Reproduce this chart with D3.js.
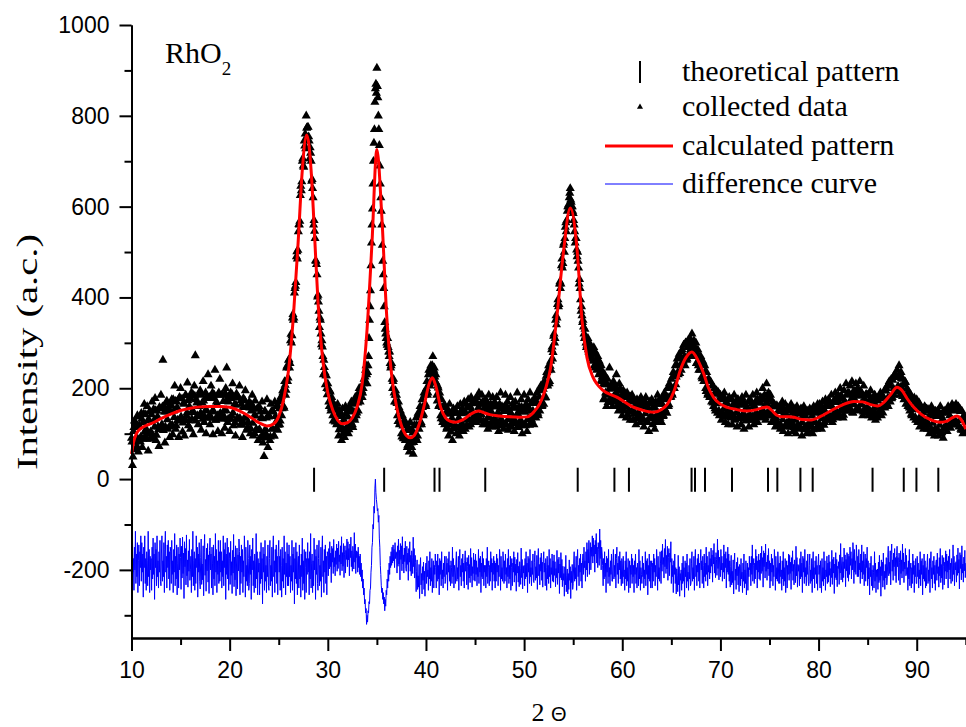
<!DOCTYPE html>
<html>
<head>
<meta charset="utf-8">
<script src="https://cdn.jsdelivr.net/npm/d3@7"></script>
<style>
  body { margin: 0; background: #fff; }
  svg { display: block; }
</style>
</head>
<body>
<div id="chart"></div>
<script>
// collected data: 2 theta grid 10.00, 10.05 ... 95.00, one row per degree
const obsStart = 10, obsStep = 0.05;
const observed = [
  90, 82, 30, 49, 105, 114, 128, 82, 65, 123, 92, 72, 140, 115, 60, 87, 118, 137, 82, 93,
  145, 132, 70, 88, 125, 144, 165, 105, 95, 142, 110, 88, 160, 129, 62, 100, 130, 149, 88, 104,
  100, 142, 170, 98, 90, 154, 130, 115, 178, 151, 85, 97, 150, 138, 115, 109, 72, 158, 155, 113,
  185, 118, 120, 159, 262, 107, 160, 148, 80, 115, 148, 168, 172, 131, 110, 158, 150, 115, 92, 162,
  118, 163, 175, 119, 98, 175, 150, 136, 205, 172, 110, 118, 170, 158, 130, 129, 92, 178, 180, 132,
  200, 137, 128, 177, 104, 124, 168, 165, 95, 131, 185, 184, 140, 146, 212, 173, 118, 129, 160, 176,
  110, 177, 190, 132, 150, 187, 98, 147, 205, 183, 272, 128, 175, 168, 140, 138, 120, 187, 160, 141,
  195, 145, 108, 185, 168, 132, 215, 172, 125, 138, 150, 190, 100, 152, 182, 178, 230, 134, 140, 180,
  120, 180, 205, 135, 148, 190, 98, 150, 178, 185, 240, 130, 130, 170, 165, 140, 105, 188, 190, 142,
  220, 145, 135, 185, 100, 132, 185, 171, 150, 137, 112, 189, 200, 151, 245, 177, 125, 132, 170, 178,
  105, 178, 190, 132, 140, 186, 210, 146, 118, 180, 165, 124, 95, 163, 188, 132, 135, 179, 180, 132,
  205, 134, 120, 173, 165, 119, 92, 158, 178, 123, 135, 173, 195, 134, 108, 159, 160, 114, 125, 159,
  170, 157, 100, 111, 150, 164, 185, 123, 95, 157, 140, 100, 172, 139, 110, 108, 155, 154, 85, 107,
  160, 109, 90, 148, 135, 94, 170, 133, 80, 98, 50, 149, 150, 110, 100, 135, 175, 91, 70, 137,
  140, 138, 85, 93, 165, 149, 110, 111, 150, 148, 95, 95, 170, 138, 125, 112, 160, 163, 108, 119,
  170, 155, 120, 128, 175, 182, 140, 155, 195, 191, 160, 156, 215, 207, 185, 196, 245, 249, 215, 223,
  262, 263, 245, 255, 305, 319, 300, 316, 355, 363, 350, 355, 410, 420, 425, 433, 490, 501, 485, 504,
  545, 561, 560, 568, 625, 645, 635, 655, 700, 706, 690, 687, 745, 734, 760, 728, 800, 773, 775, 747,
  775, 754, 745, 706, 730, 718, 700, 656, 660, 640, 620, 560, 570, 546, 530, 481, 480, 473, 450, 401,
  405, 390, 370, 334, 355, 350, 320, 296, 305, 291, 270, 230, 262, 246, 235, 208, 228, 228, 200, 186,
  210, 198, 170, 160, 195, 192, 150, 156, 180, 171, 140, 128, 165, 152, 130, 126, 160, 156, 120, 122,
  165, 141, 95, 109, 150, 147, 110, 117, 85, 138, 155, 100, 130, 130, 92, 108, 160, 143, 105, 114,
  150, 137, 100, 109, 160, 151, 115, 125, 170, 149, 120, 114, 165, 148, 135, 130, 180, 170, 140, 146,
  185, 168, 150, 178, 200, 185, 170, 182, 190, 195, 180, 190, 200, 210, 220, 215, 225, 240, 250, 230,
  210, 235, 250, 270, 310, 350, 380, 415, 470, 520, 560, 595, 650, 700, 740, 770, 830, 860, 870, 850,
  905, 865, 840, 800, 770, 735, 690, 650, 620, 590, 560, 515, 480, 450, 420, 380, 345, 330, 320, 310,
  300, 295, 310, 290, 280, 270, 280, 255, 245, 250, 255, 220, 200, 215, 220, 190, 170, 185, 195, 170,
  185, 167, 140, 127, 170, 158, 120, 122, 150, 137, 100, 93, 140, 117, 90, 89, 130, 119, 85, 87,
  120, 107, 70, 75, 110, 113, 60, 85, 125, 107, 80, 70, 108, 102, 55, 81, 118, 118, 90, 92,
  135, 119, 85, 95, 145, 141, 110, 120, 160, 150, 125, 120, 175, 158, 140, 143, 190, 185, 160, 165,
  160, 200, 215, 185, 190, 230, 240, 210, 205, 240, 250, 215, 230, 250, 270, 225, 240, 245, 225, 215,
  230, 212, 185, 172, 205, 201, 160, 163, 190, 177, 140, 133, 175, 158, 125, 131, 160, 161, 120, 127,
  160, 146, 110, 114, 150, 152, 95, 123, 165, 143, 120, 104, 145, 134, 85, 111, 155, 145, 115, 115,
  150, 115, 100, 145, 160, 112, 130, 135, 95, 105, 165, 144, 118, 123, 155, 152, 105, 113, 170, 145,
  110, 146, 165, 118, 130, 159, 175, 133, 115, 157, 160, 120, 180, 151, 125, 131, 170, 166, 140, 137,
  175, 138, 125, 169, 180, 136, 140, 158, 190, 128, 130, 165, 165, 142, 185, 169, 120, 128, 170, 157,
  120, 156, 175, 126, 150, 165, 110, 137, 185, 158, 135, 120, 165, 149, 115, 127, 180, 160, 130, 130,
  170, 129, 115, 159, 180, 125, 140, 147, 105, 117, 165, 155, 190, 133, 125, 160, 155, 120, 110, 150,
  160, 149, 185, 119, 120, 159, 170, 131, 108, 153, 150, 115, 180, 145, 115, 123, 165, 157, 135, 127,
  105, 126, 170, 156, 140, 122, 190, 144, 118, 114, 160, 152, 125, 130, 175, 158, 100, 118, 150, 148,
  185, 148, 120, 118, 165, 159, 105, 131, 175, 155, 135, 119, 190, 151, 125, 131, 170, 167, 150, 138,
  120, 140, 180, 173, 135, 142, 190, 167, 145, 140, 195, 181, 150, 163, 205, 196, 160, 162, 210, 198,
  165, 204, 215, 179, 180, 227, 235, 208, 205, 239, 250, 210, 215, 249, 260, 240, 285, 291, 265, 279,
  315, 320, 300, 310, 350, 360, 340, 355, 385, 395, 380, 385, 430, 435, 420, 430, 470, 485, 465, 475,
  515, 520, 500, 530, 555, 565, 545, 570, 590, 600, 600, 605, 620, 630, 640, 615, 610, 600, 600, 590,
  585, 570, 560, 545, 520, 530, 530, 505, 490, 500, 480, 465, 430, 440, 420, 395, 370, 380, 360, 345,
  350, 335, 320, 310, 330, 315, 300, 290, 295, 300, 310, 285, 280, 300, 295, 275, 270, 285, 285, 265,
  260, 275, 290, 250, 245, 280, 275, 255, 240, 265, 270, 245, 230, 260, 255, 235, 215, 250, 240, 225,
  215, 208, 175, 177, 230, 216, 190, 187, 160, 208, 220, 169, 185, 198, 245, 175, 170, 208, 200, 177,
  160, 176, 215, 205, 175, 170, 200, 191, 230, 160, 185, 196, 150, 171, 210, 198, 165, 157, 195, 184,
  140, 182, 195, 151, 160, 190, 185, 161, 135, 180, 190, 142, 150, 171, 180, 148, 130, 181, 175, 150,
  185, 148, 130, 177, 170, 143, 145, 164, 120, 133, 175, 170, 140, 147, 165, 174, 125, 134, 180, 163,
  130, 162, 170, 132, 115, 172, 160, 144, 180, 165, 125, 127, 150, 157, 105, 134, 170, 168, 135, 138,
  175, 137, 120, 167, 160, 133, 110, 156, 170, 127, 140, 166, 185, 145, 125, 174, 165, 134, 145, 165,
  125, 166, 180, 138, 140, 180, 190, 154, 150, 179, 175, 145, 200, 180, 160, 164, 210, 204, 180, 181,
  220, 188, 185, 226, 235, 200, 200, 230, 250, 208, 225, 252, 265, 235, 230, 268, 275, 233, 250, 268,
  240, 280, 285, 255, 260, 295, 295, 270, 250, 300, 300, 262, 265, 290, 305, 272, 275, 305, 310, 285,
  290, 300, 320, 270, 270, 295, 305, 275, 290, 285, 300, 255, 255, 275, 285, 250, 240, 265, 270, 240,
  270, 256, 225, 221, 260, 256, 215, 222, 250, 237, 200, 193, 235, 217, 185, 189, 220, 218, 180, 184,
  215, 180, 170, 206, 205, 168, 160, 187, 200, 155, 150, 190, 195, 166, 145, 192, 190, 150, 140, 178,
  185, 176, 130, 145, 175, 184, 140, 155, 190, 176, 125, 138, 170, 166, 150, 144, 120, 177, 180, 147,
  135, 146, 175, 176, 120, 141, 165, 163, 185, 132, 130, 170, 160, 147, 115, 175, 175, 134, 140, 164,
  170, 163, 120, 133, 180, 173, 140, 145, 110, 166, 165, 128, 185, 158, 130, 136, 155, 170, 115, 140,
  175, 140, 130, 171, 165, 137, 185, 160, 120, 130, 160, 169, 140, 147, 190, 176, 125, 137, 170, 168,
  135, 168, 180, 139, 150, 179, 200, 151, 140, 174, 185, 136, 130, 167, 210, 145, 165, 179, 190, 148,
  140, 146, 185, 175, 125, 139, 170, 159, 130, 126, 165, 161, 115, 136, 160, 162, 125, 121, 150, 150,
  160, 149, 110, 119, 150, 159, 170, 131, 105, 153, 145, 115, 165, 145, 120, 123, 155, 157, 100, 127,
  150, 127, 115, 157, 165, 123, 125, 145, 105, 114, 155, 152, 140, 130, 100, 157, 160, 116, 120, 145,
  145, 144, 110, 114, 155, 153, 95, 125, 140, 147, 160, 109, 115, 139, 150, 116, 100, 150, 145, 120,
  105, 120, 155, 150, 120, 116, 150, 139, 100, 109, 160, 148, 125, 126, 145, 155, 110, 116, 165, 147,
  120, 148, 165, 119, 140, 160, 110, 133, 170, 156, 150, 119, 125, 150, 175, 130, 135, 165, 160, 137,
  175, 138, 130, 170, 165, 137, 185, 160, 125, 131, 170, 170, 140, 148, 190, 177, 150, 138, 135, 169,
  185, 170, 140, 141, 200, 182, 150, 155, 180, 178, 135, 141, 195, 172, 160, 151, 210, 185, 150, 156,
  190, 157, 150, 188, 205, 154, 165, 177, 215, 147, 145, 186, 195, 164, 175, 193, 210, 153, 155, 183,
  200, 183, 150, 153, 215, 193, 165, 164, 190, 186, 140, 148, 205, 177, 155, 154, 185, 187, 145, 156,
  185, 155, 140, 185, 175, 150, 195, 172, 135, 141, 170, 179, 150, 156, 185, 184, 130, 143, 160, 173,
  135, 173, 180, 144, 150, 185, 190, 159, 140, 182, 185, 146, 160, 177, 195, 157, 165, 194, 200, 167,
  205, 179, 160, 211, 215, 180, 170, 205, 220, 177, 180, 218, 225, 199, 185, 230, 230, 192, 195, 224,
  240, 224, 205, 193, 250, 231, 185, 202, 235, 222, 200, 182, 220, 208, 175, 183, 215, 213, 165, 180,
  200, 167, 160, 194, 190, 157, 150, 176, 185, 143, 140, 178, 175, 153, 135, 179, 170, 136, 130, 164,
  175, 162, 125, 130, 165, 168, 115, 138, 160, 158, 130, 119, 155, 147, 110, 124, 160, 157, 120, 126,
  155, 125, 110, 154, 150, 119, 100, 140, 145, 109, 160, 146, 105, 123, 140, 150, 95, 110, 150, 139,
  105, 138, 150, 108, 95, 148, 140, 119, 160, 141, 100, 103, 145, 133, 90, 112, 150, 146, 110, 117,
  150, 117, 105, 148, 160, 116, 115, 140, 155, 112, 120, 151, 165, 130, 125, 159, 160, 120, 130, 151,
  165, 151, 120, 120, 160, 159, 115, 129, 155, 149, 110, 108, 150, 134, 100, 108, 140, 138, 105, 103,
  125
];

// difference curve (offset below zero): grid 10.00, 10.05 ... 95.00, one row per degree
const diffStart = 10, diffStep = 0.05;
const difference = [
  -155, -225, -130, -205, -175, -245, -150, -200, -115, -230, -165, -215, -140, -250, -180, -145, -235, -160, -195, -125,
  -225, -140, -205, -165, -260, -150, -195, -125, -230, -175, -245, -160, -180, -235, -115, -215, -155, -250, -170, -200,
  -175, -245, -150, -220, -130, -210, -165, -265, -140, -195, -155, -235, -125, -215, -180, -240, -160, -205, -135, -225,
  -235, -165, -125, -225, -180, -215, -140, -250, -155, -115, -205, -170, -240, -145, -195, -135, -220, -160, -245, -150,
  -160, -230, -135, -210, -180, -250, -155, -205, -120, -235, -170, -220, -145, -255, -185, -150, -240, -165, -200, -130,
  -173, -243, -148, -218, -128, -208, -163, -263, -138, -193, -153, -233, -123, -213, -178, -238, -158, -203, -133, -223,
  -200, -170, -250, -155, -215, -115, -235, -180, -160, -245, -175, -230, -125, -195, -150, -260, -165, -205, -140, -225,
  -242, -172, -132, -232, -187, -222, -147, -257, -162, -122, -212, -177, -247, -152, -202, -142, -227, -167, -252, -157,
  -130, -200, -165, -240, -150, -185, -255, -145, -220, -170, -235, -120, -205, -155, -250, -180, -210, -135, -230, -160,
  -225, -135, -205, -160, -240, -180, -215, -125, -235, -155, -195, -140, -265, -165, -210, -130, -220, -150, -245, -175,
  -162, -232, -137, -212, -182, -252, -157, -207, -122, -237, -172, -222, -147, -257, -187, -152, -242, -167, -202, -132,
  -160, -255, -170, -230, -145, -205, -155, -250, -180, -215, -125, -165, -260, -150, -225, -190, -235, -135, -175, -245,
  -230, -145, -210, -170, -265, -155, -200, -130, -235, -180, -250, -165, -185, -240, -120, -220, -160, -255, -175, -205,
  -185, -255, -160, -230, -140, -220, -175, -275, -150, -205, -165, -245, -135, -225, -190, -250, -170, -215, -145, -235,
  -245, -175, -135, -235, -190, -225, -150, -260, -165, -125, -215, -180, -250, -155, -205, -145, -230, -170, -255, -160,
  -135, -205, -170, -245, -155, -190, -260, -150, -225, -175, -240, -125, -210, -160, -255, -185, -215, -140, -235, -165,
  -235, -145, -215, -170, -250, -190, -225, -135, -245, -165, -205, -150, -275, -175, -220, -140, -230, -160, -255, -185,
  -170, -240, -145, -220, -190, -260, -165, -215, -130, -245, -180, -230, -155, -265, -195, -160, -250, -175, -210, -140,
  -205, -175, -255, -160, -220, -120, -240, -185, -165, -250, -180, -235, -130, -200, -155, -265, -170, -210, -145, -230,
  -245, -175, -135, -235, -190, -225, -150, -260, -165, -125, -215, -180, -250, -155, -205, -145, -230, -170, -255, -160,
  -168, -213, -153, -198, -138, -193, -163, -228, -148, -183, -153, -208, -133, -193, -173, -213, -158, -188, -143, -203,
  -152, -197, -137, -182, -167, -212, -147, -187, -127, -202, -162, -192, -142, -217, -167, -147, -207, -157, -177, -132,
  -193, -138, -178, -153, -213, -143, -173, -128, -193, -158, -203, -148, -163, -198, -118, -183, -143, -208, -158, -173,
  -160, -205, -150, -195, -170, -210, -165, -215, -185, -225, -200, -240, -220, -255, -240, -275, -265, -295, -285, -320,
  -300, -315, -290, -295, -270, -275, -245, -240, -205, -190, -150, -140, -100, -110, -60, -75, -20, 0, -30, -45,
  -55, -70, -65, -95, -80, -130, -150, -190, -210, -235, -250, -240, -265, -250, -275, -260, -290, -265, -280, -245,
  -255, -220, -240, -200, -225, -185, -210, -170, -195, -160, -190, -150, -185, -145, -180, -155, -195, -140, -175, -160,
  -162, -207, -147, -192, -132, -187, -157, -222, -142, -177, -147, -202, -127, -187, -167, -207, -152, -182, -137, -197,
  -203, -148, -188, -163, -223, -153, -183, -138, -203, -168, -213, -158, -173, -208, -128, -193, -153, -218, -168, -183,
  -248, -203, -178, -243, -213, -238, -188, -263, -198, -173, -233, -208, -253, -193, -223, -183, -243, -203, -258, -198,
  -185, -230, -170, -215, -200, -245, -180, -220, -160, -235, -195, -225, -175, -250, -200, -180, -240, -190, -210, -165,
  -195, -240, -180, -225, -165, -220, -190, -255, -175, -210, -180, -235, -160, -220, -200, -240, -185, -215, -170, -230,
  -225, -170, -210, -185, -245, -175, -205, -160, -225, -190, -235, -180, -195, -230, -150, -215, -175, -240, -190, -205,
  -230, -185, -160, -225, -195, -220, -170, -245, -180, -155, -215, -190, -235, -175, -205, -165, -225, -185, -240, -180,
  -158, -203, -183, -233, -173, -193, -243, -168, -218, -188, -228, -153, -213, -173, -238, -193, -208, -163, -223, -178,
  -225, -165, -210, -180, -235, -195, -215, -155, -230, -175, -205, -170, -250, -185, -215, -160, -220, -175, -235, -190,
  -205, -190, -240, -175, -215, -150, -230, -195, -180, -235, -190, -225, -160, -205, -175, -245, -185, -210, -170, -225,
  -180, -240, -185, -225, -165, -205, -175, -235, -190, -215, -155, -180, -245, -170, -220, -195, -225, -160, -185, -230,
  -180, -225, -165, -210, -195, -240, -175, -215, -155, -230, -190, -220, -170, -245, -195, -175, -235, -185, -205, -160,
  -227, -172, -212, -187, -247, -177, -207, -162, -227, -192, -237, -182, -197, -232, -152, -217, -177, -242, -192, -207,
  -190, -235, -175, -220, -160, -215, -185, -250, -170, -205, -175, -230, -155, -215, -195, -235, -180, -210, -165, -225,
  -228, -183, -158, -223, -193, -218, -168, -243, -178, -153, -213, -188, -233, -173, -203, -163, -223, -183, -238, -178,
  -160, -205, -185, -235, -175, -195, -245, -170, -220, -190, -230, -155, -215, -175, -240, -195, -210, -165, -225, -180,
  -227, -167, -212, -182, -237, -197, -217, -157, -232, -177, -207, -172, -252, -187, -217, -162, -222, -177, -237, -192,
  -223, -208, -258, -193, -233, -168, -248, -213, -198, -253, -208, -243, -178, -223, -193, -263, -203, -228, -188, -243,
  -230, -185, -160, -225, -195, -220, -170, -245, -180, -155, -215, -190, -235, -175, -205, -165, -225, -185, -240, -180,
  -165, -210, -150, -195, -180, -225, -160, -200, -140, -215, -155, -185, -135, -210, -160, -140, -200, -150, -170, -125,
  -185, -130, -170, -145, -205, -135, -165, -120, -185, -150, -195, -140, -155, -190, -110, -175, -135, -200, -150, -165,
  -190, -235, -175, -220, -160, -215, -185, -250, -170, -205, -175, -230, -155, -215, -195, -235, -180, -210, -165, -225,
  -225, -180, -155, -220, -190, -215, -165, -240, -175, -150, -210, -185, -230, -170, -200, -160, -220, -180, -235, -175,
  -185, -230, -170, -215, -200, -245, -180, -220, -160, -235, -195, -225, -175, -250, -200, -180, -240, -190, -210, -165,
  -230, -175, -215, -190, -250, -180, -210, -165, -230, -195, -240, -185, -200, -235, -155, -220, -180, -245, -195, -210,
  -230, -170, -215, -185, -240, -200, -220, -160, -235, -180, -210, -175, -255, -190, -220, -165, -225, -180, -240, -195,
  -180, -240, -185, -225, -165, -205, -175, -235, -190, -215, -155, -180, -245, -170, -220, -195, -225, -160, -185, -230,
  -158, -203, -143, -188, -173, -218, -153, -193, -133, -208, -168, -198, -148, -223, -173, -153, -213, -163, -183, -138,
  -230, -175, -215, -190, -250, -180, -210, -165, -230, -195, -253, -198, -213, -248, -168, -233, -193, -258, -208, -223,
  -200, -245, -185, -230, -170, -225, -195, -260, -180, -215, -185, -240, -165, -225, -205, -245, -190, -220, -175, -235,
  -230, -185, -160, -225, -195, -220, -170, -245, -180, -155, -215, -190, -235, -175, -205, -165, -225, -185, -240, -180,
  -155, -200, -180, -230, -170, -190, -240, -165, -215, -185, -225, -150, -210, -170, -235, -190, -205, -160, -220, -175,
  -207, -152, -192, -167, -227, -157, -187, -142, -207, -172, -217, -162, -177, -212, -132, -197, -157, -222, -172, -187,
  -215, -155, -200, -170, -225, -185, -205, -145, -220, -165, -195, -160, -240, -175, -205, -150, -210, -165, -225, -180,
  -238, -193, -168, -233, -203, -228, -178, -253, -188, -163, -223, -198, -243, -183, -213, -173, -233, -193, -248, -188,
  -190, -235, -175, -220, -205, -250, -185, -225, -165, -240, -200, -230, -180, -255, -205, -185, -245, -195, -215, -170,
  -200, -185, -235, -170, -210, -145, -225, -190, -175, -230, -185, -220, -155, -200, -170, -240, -180, -205, -165, -220,
  -178, -223, -163, -208, -148, -203, -173, -238, -158, -193, -163, -218, -143, -203, -183, -223, -168, -198, -153, -213,
  -180, -240, -185, -225, -165, -205, -175, -235, -190, -215, -155, -180, -245, -170, -220, -195, -225, -160, -185, -230,
  -185, -230, -170, -215, -200, -245, -180, -220, -160, -235, -195, -225, -175, -250, -200, -180, -240, -190, -210, -165,
  -223, -168, -208, -183, -243, -173, -203, -158, -223, -188, -233, -178, -193, -228, -148, -213, -173, -238, -188, -203,
  -190, -235, -175, -220, -160, -215, -185, -250, -170, -205, -175, -230, -155, -215, -195, -235, -180, -210, -165, -225,
  -235, -190, -165, -230, -200, -225, -175, -250, -185, -160, -220, -195, -240, -180, -210, -170, -230, -190, -245, -185,
  -165, -210, -190, -240, -180, -200, -250, -175, -225, -195, -235, -160, -220, -180, -245, -200, -215, -170, -230, -185,
  -227, -167, -212, -182, -237, -197, -217, -157, -232, -177, -207, -172, -252, -187, -217, -162, -222, -177, -237, -192,
  -197, -182, -232, -167, -207, -142, -222, -187, -172, -227, -182, -217, -152, -197, -167, -237, -177, -202, -162, -217,
  -165, -225, -170, -210, -150, -190, -160, -220, -175, -200, -140, -165, -230, -155, -205, -180, -210, -145, -170, -215,
  -170, -215, -155, -200, -185, -230, -165, -205, -145, -220, -180, -210, -160, -235, -185, -165, -225, -175, -195, -150,
  -235, -180, -220, -195, -255, -185, -215, -170, -235, -200, -245, -190, -205, -240, -160, -225, -185, -250, -200, -215,
  -198, -243, -183, -228, -168, -223, -193, -258, -178, -213, -183, -238, -163, -223, -203, -243, -188, -218, -173, -233,
  -218, -173, -148, -213, -183, -208, -158, -233, -168, -143, -203, -178, -223, -163, -193, -153, -213, -173, -228, -168,
  -148, -193, -173, -223, -163, -183, -233, -158, -208, -178, -218, -143, -203, -163, -228, -183, -198, -153, -213, -168,
  -210, -195, -245, -180, -220, -155, -235, -200, -185, -240, -195, -230, -165, -210, -180, -250, -190, -215, -175, -230,
  -230, -170, -215, -185, -240, -200, -220, -160, -235, -180, -210, -175, -255, -190, -220, -165, -225, -180, -240, -195,
  -235, -190, -165, -230, -200, -225, -175, -250, -185, -160, -220, -195, -240, -180, -210, -170, -230, -190, -245, -185,
  -178, -223, -163, -208, -193, -238, -173, -213, -153, -228, -188, -218, -168, -243, -193, -173, -233, -183, -203, -158,
  -220, -165, -205, -180, -240, -170, -200, -155, -220, -185, -230, -175, -190, -225, -145, -210, -170, -235, -185, -200,
  -182, -227, -167, -212, -152, -207, -177, -242, -162, -197, -167, -222, -147, -207, -187, -227, -172, -202, -157, -217,
  -185
];

// calculated pattern, read at the turning points of the red curve
const calcTheta = [
  10.0, 10.2, 10.5, 11.0, 11.5, 12.0, 13.0, 14.0, 15.0, 16.0, 17.0, 18.0, 19.0, 20.0,
  21.0, 22.0, 23.0, 23.8, 24.5, 25.0, 25.5, 26.0, 26.5, 27.0, 27.4, 27.85, 28.3, 28.6,
  29.0, 29.5, 30.0, 30.5, 31.0, 31.5, 32.0, 32.5, 33.0, 33.5, 34.0, 34.5, 35.0, 35.5,
  36.0, 36.5, 37.0, 37.5, 38.0, 38.4, 38.8, 39.3, 39.8, 40.3, 40.65, 41.0, 41.5, 42.0,
  42.5, 43.0, 43.5, 44.0, 44.5, 45.0, 45.4, 45.8, 46.5, 47.5, 48.5, 49.5, 50.3, 51.0,
  51.6, 52.2, 52.7, 53.3, 54.0, 54.7, 55.4, 55.9, 56.4, 57.0, 57.4, 58.0, 59.5, 61.2,
  62.0, 63.2, 64.0, 64.6, 65.3, 65.9, 66.5, 67.1, 67.7, 68.3, 68.8, 69.3, 70.0, 70.7,
  71.7, 72.7, 73.7, 74.3, 74.75, 75.2, 75.8, 76.4, 77.0, 77.5, 78.3, 79.2, 80.2, 81.2,
  82.4, 83.6, 84.5, 85.3, 86.0, 86.6, 87.3, 88.0, 88.5, 89.0, 89.7, 90.5, 91.5, 92.4,
  93.0, 93.6, 94.1, 94.5, 95.0
];
const calcIntensity = [
  55, 80, 100, 112, 118, 122, 133, 143, 151, 156, 159, 160, 160, 158,
  150, 138, 124, 117, 122, 138, 175, 240, 360, 530, 680, 758, 680, 560,
  390, 260, 190, 152, 130, 122, 124, 135, 160, 210, 330, 520, 726, 580,
  360, 230, 160, 118, 96, 91, 96, 120, 160, 208, 223, 205, 158, 135,
  127, 125, 128, 134, 142, 148, 150, 147, 142, 139, 137, 136, 137, 148,
  166, 200, 245, 350, 498, 597, 504, 350, 268, 225, 210, 196, 180, 158,
  152, 147, 153, 165, 195, 239, 268, 280, 262, 232, 200, 180, 165, 158,
  153, 150, 153, 157, 159, 152, 140, 137, 137, 136, 131, 130, 138, 150,
  163, 171, 170, 164, 161, 168, 185, 202, 195, 178, 158, 142, 130, 125,
  127, 135, 139, 132, 110
];

// theoretical reflection positions (2 theta)
const reflections = [
  28.6, 35.74, 40.87, 41.38, 46.04, 55.46, 59.2, 60.68, 67.06, 67.41,
  68.43, 71.18, 74.85, 75.8, 78.15, 79.4, 85.5, 88.68, 89.97, 92.2
];

const xMajorTicks = [10, 20, 30, 40, 50, 60, 70, 80, 90];
const xMinorTicks = [15, 25, 35, 45, 55, 65, 75, 85, 95];
const yMajorTicks = [-200, 0, 200, 400, 600, 800, 1000];
const yMinorTicks = [-300, -100, 100, 300, 500, 700, 900];
const legendLabels = ["theoretical pattern", "collected data", "calculated pattern", "difference curve"];

const width = 966, height = 727;
const serif = "'Liberation Serif', 'Times New Roman', serif";
const sans = "'Liberation Sans', Arial, sans-serif";

const svg = d3.select("#chart").append("svg")
  .attr("width", width)
  .attr("height", height);

const x = d3.scaleLinear().domain([10, 95]).range([131.5, 965.8]);
const y = d3.scaleLinear().domain([-350, 1000]).range([638, 25]);

const obsPts = observed.map((v, i) => ({ t: obsStart + i * obsStep, v: v }));
const diffPts = difference.map((v, i) => ({ t: diffStart + i * diffStep, v: v }));
const calc = calcTheta.map((t, i) => ({ t: t, v: calcIntensity[i] }));

// collected data
const tri = d3.symbol().type(d3.symbolTriangle).size(36);
svg.append("g")
  .selectAll("path")
  .data(obsPts)
  .enter()
  .append("path")
  .attr("d", tri)
  .attr("transform", d => `translate(${x(d.t)},${y(d.v)})`)
  .attr("fill", "#000");

// calculated pattern
svg.append("path")
  .datum(calc)
  .attr("fill", "none")
  .attr("stroke", "#ff0000")
  .attr("stroke-width", 3)
  .attr("stroke-linejoin", "round")
  .attr("d", d3.line().x(d => x(d.t)).y(d => y(d.v)).curve(d3.curveMonotoneX));

// difference curve
svg.append("path")
  .datum(diffPts)
  .attr("fill", "none")
  .attr("stroke", "#0000ff")
  .attr("stroke-width", 1)
  .attr("d", d3.line().x(d => x(d.t)).y(d => y(d.v)));

// theoretical pattern bars
svg.append("g")
  .selectAll("line")
  .data(reflections)
  .enter()
  .append("line")
  .attr("x1", d => x(d)).attr("x2", d => x(d))
  .attr("y1", y(25)).attr("y2", y(-28))
  .attr("stroke", "#000")
  .attr("stroke-width", 2);

// axes
function styleAxis(g) {
  g.selectAll("path, line").attr("stroke", "#000").attr("stroke-width", 2);
  g.selectAll("text").attr("font-family", sans).attr("font-size", 23).attr("fill", "#000");
}

svg.append("g")
  .attr("transform", `translate(0,${y(-350)})`)
  .call(d3.axisBottom(x).tickValues(xMinorTicks).tickSize(7).tickSizeOuter(0).tickFormat(""))
  .call(styleAxis);
svg.append("g")
  .attr("transform", `translate(0,${y(-350)})`)
  .call(d3.axisBottom(x).tickValues(xMajorTicks).tickSize(13).tickSizeOuter(0).tickPadding(11))
  .call(styleAxis);

svg.append("g")
  .attr("transform", `translate(${x(10)},0)`)
  .call(d3.axisLeft(y).tickValues(yMinorTicks).tickSize(7).tickSizeOuter(0).tickFormat(""))
  .call(styleAxis);
svg.append("g")
  .attr("transform", `translate(${x(10)},0)`)
  .call(d3.axisLeft(y).tickValues(yMajorTicks).tickSize(12).tickSizeOuter(0).tickPadding(10).tickFormat(d => String(d)))
  .call(styleAxis);

// axis titles
svg.append("text")
  .attr("transform", `translate(37,352) rotate(-90)`)
  .attr("text-anchor", "middle")
  .attr("font-family", serif)
  .attr("font-size", 30)
  .attr("textLength", 236)
  .attr("lengthAdjust", "spacingAndGlyphs")
  .text("Intensity (a.c.)");

const xt = svg.append("text")
  .attr("x", 549)
  .attr("y", 721)
  .attr("text-anchor", "middle")
  .attr("font-family", serif)
  .attr("font-size", 26);
xt.append("tspan").text("2 ");
xt.append("tspan").attr("font-family", sans).attr("font-size", 20).text("Θ");

// sample name
const name = svg.append("text")
  .attr("x", 165)
  .attr("y", 63)
  .attr("font-family", serif)
  .attr("font-size", 30);
name.append("tspan").text("RhO");
name.append("tspan").attr("font-size", 19).attr("dy", 12).text("2");

// legend
const rowY = [72, 107, 146, 184];
const legend = svg.append("g");
legendLabels.forEach((label, i) => {
  legend.append("text")
    .attr("x", 682)
    .attr("y", rowY[i] + 9)
    .attr("font-family", serif)
    .attr("font-size", 30)
    .text(label);
});
legend.append("line")
  .attr("x1", 640).attr("x2", 640)
  .attr("y1", rowY[0] - 11).attr("y2", rowY[0] + 11)
  .attr("stroke", "#000").attr("stroke-width", 2);
legend.append("path")
  .attr("d", d3.symbol().type(d3.symbolTriangle).size(16))
  .attr("transform", `translate(640,${rowY[1]})`)
  .attr("fill", "#000");
legend.append("line")
  .attr("x1", 605).attr("x2", 673)
  .attr("y1", rowY[2]).attr("y2", rowY[2])
  .attr("stroke", "#ff0000").attr("stroke-width", 3);
legend.append("line")
  .attr("x1", 605).attr("x2", 673)
  .attr("y1", rowY[3]).attr("y2", rowY[3])
  .attr("stroke", "#0000ff").attr("stroke-width", 1);
</script>
</body>
</html>
